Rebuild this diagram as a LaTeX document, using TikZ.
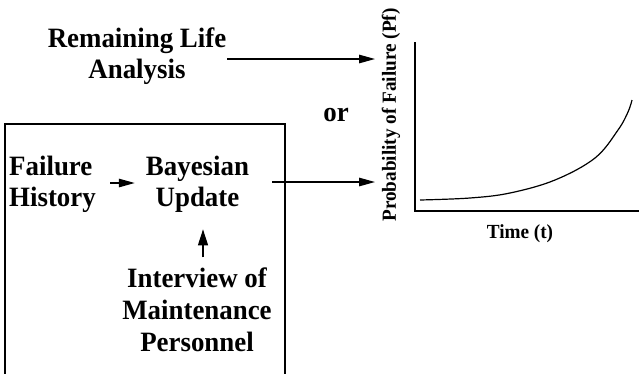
\documentclass[tikz,border=0pt]{standalone}
\usepackage{fontspec}
\setmainfont{Liberation Serif}[FakeStretch=0.96]
\usetikzlibrary{arrows.meta}
\begin{document}
\begin{tikzpicture}[x=1pt,y=-1pt,
  lbl/.style={font=\bfseries\fontsize{28}{31.5}\selectfont, inner sep=0pt},
  smalllbl/.style={font=\bfseries\fontsize{20}{23}\selectfont, inner sep=0pt},
  conn/.style={line width=1.3pt, -{Triangle[length=16pt,width=8.5pt]}},
  upconn/.style={line width=1.3pt, -{Triangle[length=16pt,width=10pt]}},
  ax/.style={line width=1.3pt}]
\useasboundingbox (0,0) rectangle (639,373);
% enclosing box (open at the bottom)
\draw[ax] (5,380) -- (5,124) -- (285,124) -- (285,380);
% labels
\node[lbl, align=center] (rl) at (137,56) {Remaining Life\\Analysis};
\node[lbl, anchor=base] (or) at (336,121) {or};
\node[lbl, align=left, anchor=west] (fh) at (9,184.3) {Failure\\History};
\node[lbl, align=center] (bu) at (197.5,184.3) {Bayesian\\Update};
\node[lbl, align=center, font=\bfseries\fontsize{28}{32}\selectfont] (im) at (197,309.5) {Interview of\\Maintenance\\Personnel};
% graph
\coordinate (ytop) at (415,42);
\coordinate (orig) at (415,211);
\coordinate (xend) at (639,211);
\draw[ax] (ytop) -- (orig) -- (xend);
\draw[line width=1.2pt] plot[smooth, tension=0.6] coordinates {(420,200) (470,198) (510,193) (555,180) (595,158) (618,130) (628,112) (632,100)};
\node[smalllbl, rotate=90] (ylab) at (391,115) {Probability of Failure (Pf)};
\node[smalllbl, anchor=base] (time) at (520,238) {Time (t)};
% connectors
\coordinate (t1) at (375,59);
\coordinate (t2) at (375,182);
\coordinate (ux) at (203,0);
\draw[conn, shorten <=0.8pt] (rl.east |- t1) -- (t1);
\draw[conn] ([xshift=14.4pt,yshift=1.3pt]fh.east) -- ([xshift=-11pt,yshift=1.3pt]bu.west);
\draw[conn, shorten <=23pt] (bu.east |- t2) -- (t2);
\draw[upconn, shorten <=9.9pt, shorten >=16.4pt] (ux |- im.north) -- (ux |- bu.south);
\end{tikzpicture}
\end{document}
